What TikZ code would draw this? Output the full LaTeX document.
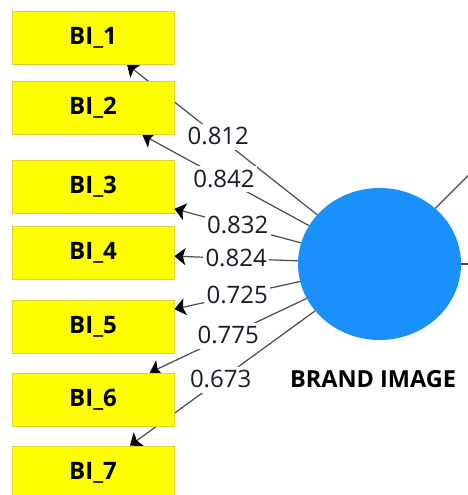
\documentclass[tikz,border=0pt]{standalone}
\usepackage{fontspec}
\setmainfont{Open Sans}
\usetikzlibrary{shapes.geometric,arrows.meta}
\pgfdeclarelayer{back}
\pgfsetlayers{back,main}
\definecolor{itemfill}{RGB}{255,255,0}
\definecolor{itemdraw}{RGB}{215,210,60}
\definecolor{latentfill}{RGB}{26,144,252}
\definecolor{pathgray}{RGB}{75,75,75}
\definecolor{loadtext}{RGB}{25,25,40}
\tikzset{
  item/.style={rectangle, fill=itemfill, draw=itemdraw, line width=0.8pt,
    minimum width=162pt, minimum height=53pt, inner sep=0pt,
    font=\fontsize{24}{28}\selectfont\bfseries},
  latent/.style={ellipse, fill=latentfill, draw=none,
    minimum width=163pt, minimum height=152pt, inner sep=0pt},
  loading/.style={draw=pathgray, line width=1.2pt,
    -{Stealth[length=11pt,width=17pt,inset=2.5pt,color=black]}},
  plainpath/.style={draw=pathgray, line width=1.2pt},
  weight/.style={fill=white, inner xsep=2.5pt, inner ysep=5pt, text height=16pt, text depth=0pt,
    text=loadtext, font=\fontsize{24}{28}\selectfont},
  title/.style={font=\fontsize{23.5}{27}\selectfont\bfseries, text=black}
}
\begin{document}
\begin{tikzpicture}[x=1pt,y=-1pt]
\useasboundingbox (0,0) rectangle (467,495);
\clip (0,0) rectangle (467,495);

% indicator boxes
\node[item] (bi1) at (93,37.5) {BI\_1};
\node[item] (bi2) at (93,108) {BI\_2};
\node[item] (bi3) at (93,187) {BI\_3};
\node[item] (bi4) at (93,253) {BI\_4};
\node[item] (bi5) at (93,327) {BI\_5};
\node[item] (bi6) at (93,399.5) {BI\_6};
\node[item] (bi7) at (93,472.5) {BI\_7};

% latent construct
\node[latent] (bi) at (379.5,264) {};
\node[title] (bilabel) at (373,379) {BRAND IMAGE};

% structural paths leaving to the right
\coordinate (out1) at (520,124);
\coordinate (out2) at (520,264);

\begin{pgfonlayer}{back}
\draw[plainpath] (bi) -- (out1);
\draw[plainpath] (bi) -- (out2);
% outer loadings, kept behind the indicator boxes
\draw[loading] (bi) -- node[weight, pos=0.52] (w1) {0.812} (bi1);
\draw[loading] (bi) -- node[weight, pos=0.51] (w2) {0.842} (bi2);
\draw[loading] (bi) -- node[weight, pos=0.50] (w3) {0.832} (bi3);
\draw[loading] (bi) -- node[weight, pos=0.50] (w4) {0.824} (bi4);
\draw[loading] (bi) -- node[weight, pos=0.50] (w5) {0.725} (bi5);
\draw[loading] (bi) -- node[weight, pos=0.50] (w6) {0.775} (bi6);
\draw[loading] (bi) -- node[weight, pos=0.51] (w7) {0.673} (bi7);
\end{pgfonlayer}
\end{tikzpicture}
\end{document}
